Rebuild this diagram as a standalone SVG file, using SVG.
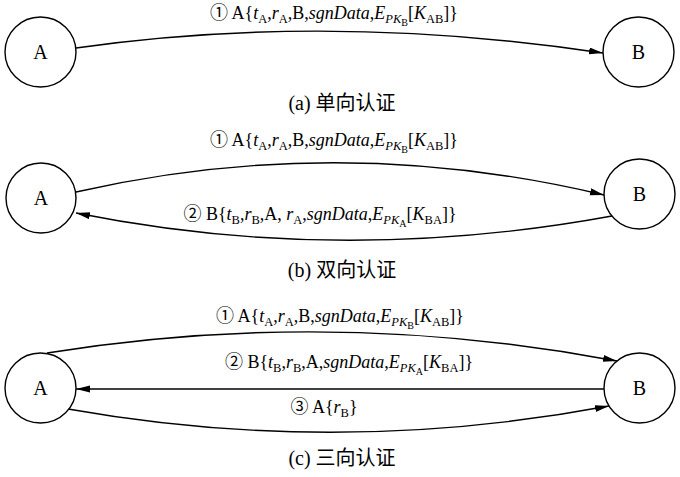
<svg xmlns="http://www.w3.org/2000/svg" width="680" height="477" viewBox="0 0 680 477">
<defs>
<style>
.node ellipse{fill:#fff;stroke:#000;stroke-width:1.4}
.node text{font-family:"Liberation Serif","Noto Sans CJK SC",serif;font-size:20px;text-anchor:middle}
.edge{fill:none;stroke:#000;stroke-width:1.4;marker-end:url(#arr)}
.lbl{font-family:"Liberation Serif","Noto Sans CJK SC",serif;font-size:18px;text-anchor:middle}
.cap{font-family:"Liberation Serif","Noto Sans CJK SC",serif;font-size:20px;text-anchor:middle}
.i{font-style:italic}
.s{font-size:12.5px}
.ss{font-size:10px}
</style>
<marker id="arr" markerUnits="userSpaceOnUse" markerWidth="15" markerHeight="8" refX="14" refY="3.5" orient="auto">
<path d="M0,0 L14,3.5 L0,7 z" fill="#000"/>
</marker>
</defs>
<rect width="680" height="477" fill="#fff"/>

<g id="connectors">
<path class="edge" d="M76,48 Q330,12 603,53"/>
<path class="edge" d="M76,192 Q340,132 604,195"/>
<path class="edge" d="M612,216 Q340,266 76,213"/>
<path class="edge" d="M47,353 Q332,307 617,361"/>
<path class="edge" d="M604,389 L76,389"/>
<path class="edge" d="M68,409 Q338,457 609,406"/>
</g>

<g id="a-A" class="node"><ellipse cx="40.5" cy="52" rx="35.5" ry="35"/><text x="40.5" y="59">A</text></g>
<g id="a-B" class="node"><ellipse cx="638.5" cy="52" rx="35.5" ry="35"/><text x="638.5" y="59">B</text></g>
<g id="b-A" class="node"><ellipse cx="41" cy="198" rx="35" ry="35"/><text x="41" y="205">A</text></g>
<g id="b-B" class="node"><ellipse cx="639.5" cy="194" rx="35.5" ry="35"/><text x="639.5" y="201">B</text></g>
<g id="c-A" class="node"><ellipse cx="40.5" cy="388" rx="35.5" ry="35"/><text x="40.5" y="395">A</text></g>
<g id="c-B" class="node"><ellipse cx="639.5" cy="388" rx="35.5" ry="35"/><text x="639.5" y="395">B</text></g>

<g id="labels">
<text class="lbl" x="334" y="19">① A{<tspan class="i">t</tspan><tspan class="s" dy="4">A</tspan><tspan dy="-4">,</tspan><tspan class="i">r</tspan><tspan class="s" dy="4">A</tspan><tspan dy="-4">,B,</tspan><tspan class="i">sgnData</tspan>,<tspan class="i">E</tspan><tspan class="i s" dy="4">PK</tspan><tspan class="ss" dy="3">B</tspan><tspan dy="-7">[</tspan><tspan class="i">K</tspan><tspan class="s" dy="4">AB</tspan><tspan dy="-4">]}</tspan></text>
<text class="cap" x="342" y="110">(a) 单向认证</text>

<text class="lbl" x="334" y="146">① A{<tspan class="i">t</tspan><tspan class="s" dy="4">A</tspan><tspan dy="-4">,</tspan><tspan class="i">r</tspan><tspan class="s" dy="4">A</tspan><tspan dy="-4">,B,</tspan><tspan class="i">sgnData</tspan>,<tspan class="i">E</tspan><tspan class="i s" dy="4">PK</tspan><tspan class="ss" dy="3">B</tspan><tspan dy="-7">[</tspan><tspan class="i">K</tspan><tspan class="s" dy="4">AB</tspan><tspan dy="-4">]}</tspan></text>
<text class="lbl" x="320" y="220">② B{<tspan class="i">t</tspan><tspan class="s" dy="4">B</tspan><tspan dy="-4">,</tspan><tspan class="i">r</tspan><tspan class="s" dy="4">B</tspan><tspan dy="-4">,A, </tspan><tspan class="i">r</tspan><tspan class="s" dy="4">A</tspan><tspan dy="-4">,</tspan><tspan class="i">sgnData</tspan>,<tspan class="i">E</tspan><tspan class="i s" dy="4">PK</tspan><tspan class="ss" dy="3">A</tspan><tspan dy="-7">[</tspan><tspan class="i">K</tspan><tspan class="s" dy="4">BA</tspan><tspan dy="-4">]}</tspan></text>
<text class="cap" x="342" y="277">(b) 双向认证</text>

<text class="lbl" x="340" y="322">① A{<tspan class="i">t</tspan><tspan class="s" dy="4">A</tspan><tspan dy="-4">,</tspan><tspan class="i">r</tspan><tspan class="s" dy="4">A</tspan><tspan dy="-4">,B,</tspan><tspan class="i">sgnData</tspan>,<tspan class="i">E</tspan><tspan class="i s" dy="4">PK</tspan><tspan class="ss" dy="3">B</tspan><tspan dy="-7">[</tspan><tspan class="i">K</tspan><tspan class="s" dy="4">AB</tspan><tspan dy="-4">]}</tspan></text>
<text class="lbl" x="349" y="368">② B{<tspan class="i">t</tspan><tspan class="s" dy="4">B</tspan><tspan dy="-4">,</tspan><tspan class="i">r</tspan><tspan class="s" dy="4">B</tspan><tspan dy="-4">,A,</tspan><tspan class="i">sgnData</tspan>,<tspan class="i">E</tspan><tspan class="i s" dy="4">PK</tspan><tspan class="ss" dy="3">A</tspan><tspan dy="-7">[</tspan><tspan class="i">K</tspan><tspan class="s" dy="4">BA</tspan><tspan dy="-4">]}</tspan></text>
<text class="lbl" x="324" y="413">③ A{<tspan class="i">r</tspan><tspan class="s" dy="4">B</tspan><tspan dy="-4">}</tspan></text>
<text class="cap" x="342" y="465">(c) 三向认证</text>
</g>
</svg>
